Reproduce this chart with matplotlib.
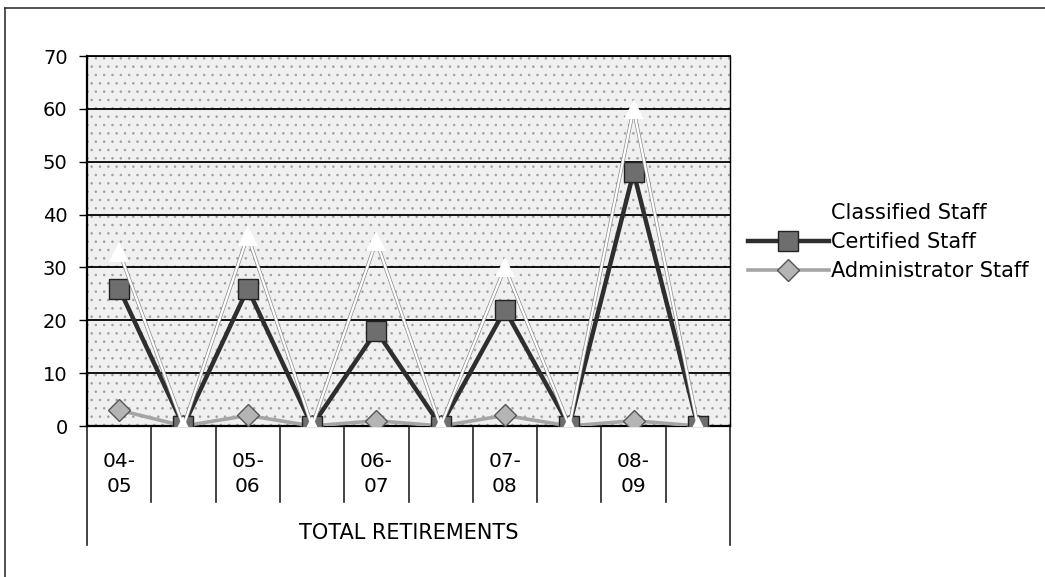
"""
Staff retirements by year, line chart with grouped category axis
"""

import numpy as np
import matplotlib
matplotlib.use("Agg")
import matplotlib.pyplot as plt
import matplotlib.patheffects as pe
from matplotlib.lines import Line2D
from matplotlib.patches import Rectangle
from matplotlib.transforms import blended_transform_factory

categories = ['04-\n05', '', '05-\n06', '', '06-\n07', '', '07-\n08', '', '08-\n09', '']
group_label = 'TOTAL RETIREMENTS'

classified = [33, 0, 36, 0, 35, 0, 30, 0, 60, 0]
certified = [26, 0, 26, 0, 18, 0, 22, 0, 48, 0]
administrator = [3, 0, 2, 0, 1, 0, 2, 0, 1, 0]

yticks = [0, 10, 20, 30, 40, 50, 60, 70]

plt.rcParams['font.family'] = ['DejaVu Sans']
plt.rcParams['hatch.linewidth'] = 0.6

fig = plt.figure(figsize=(10.45, 5.77), dpi=100)
ax = fig.add_axes([87 / 1045, 1 - 426 / 577, (730 - 87) / 1045, (426 - 56) / 577])

x = np.arange(len(categories))
ax.set_xlim(-0.5, len(categories) - 0.5)
ax.set_ylim(0, 70)

# stippled plot area
ax.set_facecolor('#f0f0f0')
ax.add_patch(Rectangle((0, 0), 1, 1, transform=ax.transAxes, facecolor='none',
                       edgecolor='#a0a0a0', hatch='..', linewidth=0, zorder=0))

for y in yticks[1:]:
    ax.axhline(y, color='black', lw=1.3, zorder=1)

ax.plot(x, administrator, color='#a5a5a5', lw=2.6, marker='D', markersize=11,
        markerfacecolor='#b4b4b4', markeredgecolor='#555555', markeredgewidth=1.0, zorder=3)
ax.plot(x, certified, color='#2e2e2e', lw=3.2, marker='s', markersize=14,
        markerfacecolor='#6e6e6e', markeredgecolor='#222222', markeredgewidth=1.0, zorder=4)
# classified staff: white line with a faint outline, white triangle markers on top
ax.plot(x, classified, color='white', lw=1.6, zorder=5,
        path_effects=[pe.Stroke(linewidth=2.6, foreground='#8a8a8a'), pe.Normal()])
ax.plot(x, classified, linestyle='none', marker='^', markersize=14,
        markerfacecolor='white', markeredgewidth=0, zorder=6)

ax.set_yticks(yticks)
ax.tick_params(axis='y', length=6, width=1, pad=8, labelsize=14, colors='black')
ax.set_xticks([])
for s in ['left', 'bottom']:
    ax.spines[s].set_linewidth(1.6)
ax.spines['top'].set_linewidth(1.3)
ax.spines['right'].set_linewidth(1.0)
ax.spines['right'].set_linestyle((0, (5, 1)))

# category separators and labels below the axis
tr = blended_transform_factory(ax.transData, ax.transAxes)
for b in np.arange(0.5, len(categories) - 1, 1.0):
    ax.add_line(Line2D([b, b], [0, -0.205], transform=tr, color='#222222', lw=1.2, clip_on=False))
for b in [-0.5, len(categories) - 0.5]:
    ax.add_line(Line2D([b, b], [0, -0.322], transform=tr, color='#222222', lw=1.2, clip_on=False))

for xi, lab in zip(x, categories):
    ax.text(xi, -0.13, lab, transform=tr, ha='center', va='center', fontsize=14.5,
            linespacing=1.35)
ax.text(0.5, -0.289, group_label, transform=ax.transAxes, ha='center', va='center', fontsize=15)

# legend
handles = [
    Line2D([], [], color='white', lw=1.6, marker='^', markersize=14,
           markerfacecolor='white', markeredgewidth=0),
    Line2D([], [], color='#2e2e2e', lw=3.2, marker='s', markersize=14,
           markerfacecolor='#6e6e6e', markeredgecolor='#222222'),
    Line2D([], [], color='#a5a5a5', lw=2.6, marker='D', markersize=11,
           markerfacecolor='#b4b4b4', markeredgecolor='#555555'),
]
fig.legend(handles, ['Classified Staff', 'Certified Staff', 'Administrator Staff'],
           loc='center', bbox_to_anchor=(888 / 1045, 1 - 242 / 577), frameon=False,
           fontsize=15, handlelength=3.9, handletextpad=0.1, labelspacing=0.45,
           borderpad=0, borderaxespad=0)

# chart border
fig.add_artist(Line2D([5 / 1045, 5 / 1045], [0, 1 - 8 / 577], transform=fig.transFigure,
                      color='#333333', lw=1.2))
fig.add_artist(Line2D([5 / 1045, 1], [1 - 8 / 577, 1 - 8 / 577], transform=fig.transFigure,
                      color='#333333', lw=1.2))

fig.savefig('out.png', dpi=100)
